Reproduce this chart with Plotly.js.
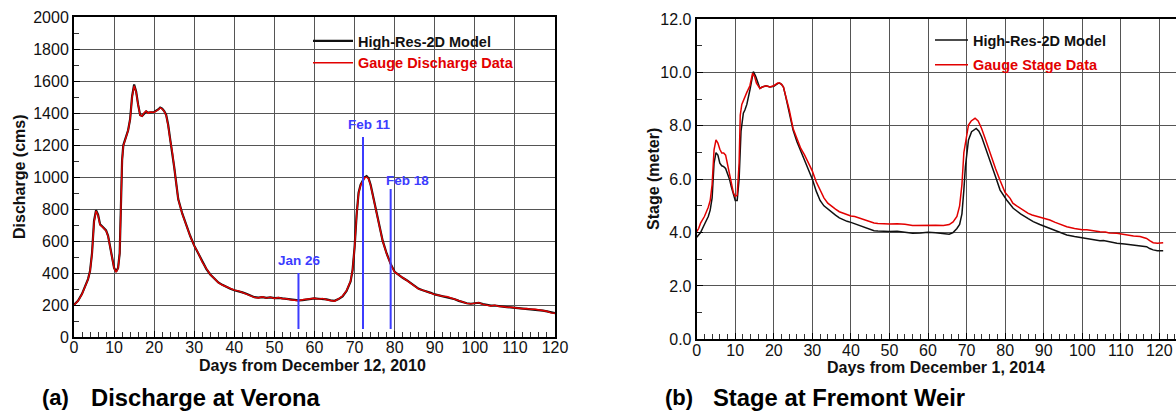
<!DOCTYPE html>
<html>
<head>
<meta charset="utf-8">
<script src="https://cdn.plot.ly/plotly-3.0.1.min.js"></script>
<style>
  html, body { margin: 0; padding: 0; background: #ffffff; overflow: hidden; }
  #chart { width: 1200px; height: 411px; }
</style>
</head>
<body>
<div id="chart"></div>
<script>
// ---- (a) Discharge at Verona: days from December 12, 2010 ----
const veronaDays = [0, 1, 2, 3, 3.5, 4, 4.5, 5, 5.5, 6, 6.5, 7, 7.5, 8, 8.5, 9, 9.5, 10, 10.5, 11,
  11.4, 11.7, 12, 12.3, 13, 13.5, 14, 14.5, 15, 15.5, 16, 16.5, 17, 17.5, 18, 18.5, 19, 20, 21, 21.5,
  22, 22.5, 23, 23.5, 24, 24.5, 25, 25.5, 26, 27, 28, 29, 30, 31, 32, 33, 34, 35, 36, 37,
  38, 39, 40, 41, 42, 43, 44, 45, 46, 47, 48, 49, 50, 51, 52, 53, 54, 55, 56, 57,
  58, 59, 60, 61, 62, 63, 64, 65, 66, 67, 68, 69, 69.5, 70, 70.5, 71, 71.5, 72, 72.5, 73,
  73.5, 74, 75, 76, 77, 78, 79, 80, 81, 82, 83, 84, 85, 86, 87, 88, 89, 90, 91, 92,
  93, 94, 95, 96, 97, 98, 99, 100, 101, 102, 103, 104, 105, 106, 107, 108, 109, 110, 111, 112,
  113, 114, 115, 116, 117, 118, 119, 120];

const veronaModel = [202, 226, 270, 332, 362, 412, 525, 725, 792, 765, 705, 692, 682, 666, 632, 572, 492, 432, 408, 432,
  525, 805, 1105, 1198, 1252, 1292, 1362, 1505, 1578, 1535, 1452, 1388, 1382, 1400, 1410, 1402, 1404, 1406, 1422, 1434,
  1428, 1412, 1388, 1325, 1235, 1162, 1062, 962, 862, 772, 700, 631, 571, 524, 470, 426, 391, 364, 341, 326,
  312, 301, 292, 287, 279, 270, 259, 249, 246, 249, 245, 247, 243, 245, 241, 238, 235, 231, 229, 231,
  235, 239, 241, 239, 239, 235, 229, 226, 237, 254, 288, 348, 418, 560, 762, 902, 952, 978, 998, 1005,
  992, 952, 832, 702, 602, 522, 457, 407, 386, 370, 355, 336, 318, 301, 292, 285, 276, 266, 260, 255,
  252, 245, 236, 226, 216, 211, 208, 211, 214, 206, 200, 196, 197, 192, 190, 187, 185, 183, 180, 178,
  177, 174, 172, 169, 165, 160, 153, 149];

const veronaGauge = [200, 225, 268, 330, 360, 410, 520, 718, 788, 760, 700, 690, 680, 664, 630, 570, 490, 430, 405, 430,
  520, 800, 1100, 1195, 1250, 1290, 1360, 1500, 1570, 1530, 1450, 1385, 1380, 1402, 1412, 1398, 1406, 1404, 1420, 1432,
  1425, 1410, 1385, 1320, 1230, 1160, 1060, 960, 860, 770, 698, 630, 570, 525, 468, 425, 390, 366, 340, 325,
  314, 299, 293, 288, 277, 271, 257, 248, 244, 251, 243, 249, 241, 247, 239, 239, 233, 230, 227, 233,
  236, 241, 242, 237, 241, 233, 228, 224, 238, 256, 290, 350, 420, 558, 758, 898, 948, 974, 995, 1000,
  988, 948, 828, 700, 600, 520, 455, 405, 385, 371, 354, 335, 319, 299, 293, 284, 275, 265, 261, 254,
  253, 244, 235, 225, 215, 210, 207, 213, 215, 204, 201, 194, 199, 191, 191, 186, 186, 182, 181, 177,
  178, 173, 173, 170, 164, 161, 151, 148];

// Event markers on the Verona hydrograph
const eventLabels = ['Jan 26', 'Feb 11', 'Feb 18'];
const eventDays = [56, 72.1, 79];
const eventTop = [400, 1250, 925];
const eventBottom = [50, 50, 50];

// ---- (b) Stage at Fremont Weir: days from December 1, 2014 ----
const fremontGaugeDays = [0, 0.5, 1, 2, 3, 3.5, 4, 4.5, 5, 5.5, 6, 6.5, 7, 7.5, 8, 8.5, 9, 9.5, 10, 10.5,
  11, 11.3, 11.7, 12.5, 13, 13.8, 14.5, 15, 15.5, 16.4, 17, 18, 19, 20, 21, 21.5, 22, 22.5, 23, 24,
  25, 26, 27, 28, 29, 30, 31, 32, 33, 34, 35, 36, 37, 38, 39, 40, 41, 42, 43, 44,
  45, 46, 47, 48, 50, 52, 54, 56, 58, 60, 62, 64, 65.5, 66.5, 67.5, 68.2, 68.8, 69.3, 69.8, 70.5,
  71.2, 72.2, 73, 73.9, 75, 76.1, 77.5, 78.7, 80, 81.3, 82, 83, 84, 85, 86, 87, 88, 89, 90, 91.6,
  93, 94, 96, 98, 100, 101.2, 103, 104.6, 106, 107, 109, 111, 113.3, 115, 116.7, 117.5, 118.4, 119.5, 121];

const fremontGauge = [4.03, 4.15, 4.35, 4.6, 4.95, 5.2, 5.8, 7.1, 7.47, 7.35, 7.12, 6.98, 6.98, 6.9, 6.55, 6.2, 5.85, 5.5, 5.35, 5.4,
  6.6, 8.4, 8.8, 9.1, 9.25, 9.5, 9.97, 9.85, 9.6, 9.4, 9.45, 9.5, 9.45, 9.5, 9.6, 9.6, 9.55, 9.45, 9.2, 8.6,
  7.9, 7.5, 7.15, 6.9, 6.6, 6.3, 5.9, 5.6, 5.3, 5.1, 4.98, 4.88, 4.78, 4.72, 4.68, 4.62, 4.6, 4.55, 4.52, 4.48,
  4.42, 4.36, 4.34, 4.33, 4.32, 4.33, 4.31, 4.26, 4.27, 4.28, 4.27, 4.26, 4.3, 4.4, 4.6, 5.0, 5.8, 7.0, 7.5, 8.03,
  8.18, 8.28, 8.18, 7.9, 7.45, 6.97, 6.4, 5.95, 5.5, 5.28, 5.1, 5.0, 4.9, 4.8, 4.72, 4.66, 4.62, 4.58, 4.52, 4.47,
  4.38, 4.32, 4.22, 4.15, 4.1, 4.1, 4.05, 4.03, 4.02, 3.98, 3.97, 3.92, 3.87, 3.85, 3.78, 3.7, 3.62, 3.6, 3.62];

const fremontModelDays = [0, 0.5, 1, 2, 3, 3.5, 4, 4.5, 5, 5.5, 6, 6.5, 7, 7.5, 8, 8.5, 9, 9.5, 10, 10.5,
  11, 11.5, 12.1, 12.5, 13, 13.8, 14.7, 15.3, 16.4, 17, 18, 19, 20, 21, 21.5, 22, 22.5, 23, 24, 25,
  26, 27, 28, 29, 30, 31, 32, 33, 34, 35, 36, 37, 38, 39, 40, 41, 42, 43, 44, 45,
  46, 47, 48, 50, 52, 54, 56, 58, 60, 62, 64, 65.5, 66.5, 67.5, 68.2, 68.8, 69.3, 69.7, 70.5, 71.3,
  72.5, 73.2, 73.9, 75, 76.1, 77.5, 78.7, 80.4, 82.1, 84, 86, 87.3, 89, 91.6, 94, 96, 98, 101.2, 103, 104.6,
  105.5, 107, 109, 111, 113.3, 115, 116.7, 117.5, 118.4, 119.5, 121];

const fremontModel = [3.82, 3.9, 4.0, 4.3, 4.6, 4.84, 5.3, 6.6, 6.99, 6.9, 6.6, 6.5, 6.47, 6.4, 6.22, 6.0, 5.7, 5.4, 5.2, 5.2,
  6.0, 7.8, 8.47, 8.59, 8.8, 9.34, 10.03, 9.85, 9.4, 9.45, 9.5, 9.45, 9.48, 9.58, 9.6, 9.55, 9.45, 9.15, 8.5, 7.84,
  7.4, 7.05, 6.75, 6.4, 6.0, 5.55, 5.2, 5.0, 4.88, 4.75, 4.65, 4.55, 4.47, 4.42, 4.38, 4.33, 4.3, 4.24, 4.18, 4.12,
  4.07, 4.06, 4.05, 4.04, 4.05, 4.02, 3.97, 3.98, 4.01, 3.99, 3.96, 3.94, 4.0, 4.15, 4.3, 4.7, 5.6, 6.47, 7.47, 7.78,
  7.9, 7.8, 7.59, 7.15, 6.72, 6.1, 5.59, 5.22, 4.91, 4.7, 4.52, 4.41, 4.3, 4.16, 4.02, 3.91, 3.85, 3.78, 3.74, 3.69,
  3.7, 3.65, 3.6, 3.57, 3.53, 3.5, 3.47, 3.4, 3.35, 3.32, 3.32];

const FONT = 'Arial, "Liberation Sans", Helvetica, sans-serif';
const RED = 'rgb(226,0,0)';
const BLUE = 'rgb(60,60,255)';
const GRID = '#555555';

const traces = [
  { x: veronaDays, y: veronaModel, xaxis: 'x', yaxis: 'y', mode: 'lines', name: 'High-Res-2D Model',
    line: { color: '#111111', width: 2.2 }, legend: 'legend', legendgroup: 'a1' },
  { x: veronaDays, y: veronaGauge, xaxis: 'x', yaxis: 'y', mode: 'lines',
    name: '<span style="color:' + RED + '">Gauge Discharge Data</span>',
    line: { color: RED, width: 1.4 }, legend: 'legend', legendgroup: 'a2' },
  { x: fremontModelDays, y: fremontModel, xaxis: 'x2', yaxis: 'y2', mode: 'lines', name: 'High-Res-2D Model',
    line: { color: '#111111', width: 1.5 }, legend: 'legend2', legendgroup: 'b1' },
  { x: fremontGaugeDays, y: fremontGauge, xaxis: 'x2', yaxis: 'y2', mode: 'lines',
    name: '<span style="color:' + RED + '">Gauge Stage Data</span>',
    line: { color: RED, width: 1.5 }, legend: 'legend2', legendgroup: 'b2' }
];

// vertical event lines, one trace each
eventDays.forEach(function (d, i) {
  traces.push({ x: [d, d], y: [eventBottom[i], eventTop[i]], xaxis: 'x', yaxis: 'y', mode: 'lines',
    line: { color: BLUE, width: 2 }, showlegend: false, hoverinfo: 'skip' });
});

const labelShift = [[1, 13], [6, 12], [17, 8]];
const annotations = eventLabels.map(function (t, i) {
  return { text: t, x: eventDays[i], y: eventTop[i], xref: 'x', yref: 'y', showarrow: false,
    xanchor: 'center', yanchor: 'middle', xshift: labelShift[i][0], yshift: labelShift[i][1],
    font: { family: FONT, size: 13.5, color: BLUE, weight: 'bold' } };
});

function title(text, x, y, angle, size) {
  return { text: text, x: x / 1200, y: 1 - y / 411, xref: 'paper', yref: 'paper', showarrow: false,
    xanchor: 'center', yanchor: 'middle', textangle: angle || 0,
    font: { family: FONT, size: size || 16, color: '#111111', weight: 'bold' } };
}
function caption(text, x, y, size) {
  return { text: text, x: x / 1200, y: 1 - y / 411, xref: 'paper', yref: 'paper', showarrow: false,
    xanchor: 'left', yanchor: 'middle', font: { family: FONT, size: size || 22, color: '#000000', weight: 'bold' } };
}
annotations.push(
  title('Discharge (cms)', 19, 177, -90),
  title('Days from December 12, 2010', 313, 365),
  title('Stage (meter)', 653, 179, -90),
  title('Days from December 1, 2014', 936, 367),
  caption('(a)', 40, 397),
  caption('Discharge at Verona', 89, 397, 23.8),
  caption('(b)', 663, 397),
  caption('Stage at Fremont Weir', 711, 397, 23.8)
);

function xAxis(domain, range) {
  return { domain: domain, range: range, dtick: 10, tick0: 0, ticks: 'inside', ticklen: 6, tickcolor: '#000',
    ticklabelstandoff: -5,
    showgrid: true, gridcolor: GRID, gridwidth: 1, zeroline: false,
    showline: true, linecolor: '#000', linewidth: 2, mirror: true,
    tickfont: { family: FONT, size: 16, color: '#111' },
    minor: { dtick: 2, tick0: 0, ticks: 'inside', ticklen: 5, tickcolor: '#333', showgrid: false },
    fixedrange: true };
}
function yAxis(domain, range, dtick, minorDtick, fmt, anchor) {
  return { domain: domain, range: range, dtick: dtick, tick0: 0, anchor: anchor, ticks: 'inside', ticklen: 6,
    tickcolor: '#000', tickformat: fmt,
    showgrid: true, gridcolor: GRID, gridwidth: 1, zeroline: false,
    showline: true, linecolor: '#000', linewidth: 2, mirror: true,
    tickfont: { family: FONT, size: 16, color: '#111' },
    minor: { dtick: minorDtick, tick0: 0, ticks: 'inside', ticklen: 5, tickcolor: '#333', showgrid: false },
    fixedrange: true };
}

const legendBase = { bgcolor: 'rgba(0,0,0,0)', borderwidth: 0, xref: 'paper', yref: 'paper',
  xanchor: 'left', yanchor: 'top', tracegroupgap: 0,
  font: { family: FONT, size: 14.5, color: '#111111', weight: 'bold' } };

const layout = {
  width: 1200, height: 411,
  margin: { l: 0, r: 0, t: 0, b: 0 },
  paper_bgcolor: '#ffffff', plot_bgcolor: '#ffffff',
  showlegend: true,
  xaxis: xAxis([74 / 1200, 555 / 1200], [0, 120]),
  yaxis: yAxis([74 / 411, 394 / 411], [0, 2000], 200, 100, 'd', 'x'),
  xaxis2: Object.assign(xAxis([696.7 / 1200, 1178.6 / 1200], [0, 125]), { anchor: 'y2' }),
  yaxis2: yAxis([71.7 / 411, 392 / 411], [0, 12], 2, 1, '.1f', 'x2'),
  legend: Object.assign({}, legendBase, { x: 308 / 1200, y: 1 - 25 / 411, itemwidth: 40 }),
  legend2: Object.assign({}, legendBase, { x: 930 / 1200, y: 1 - 24 / 411, itemwidth: 33, tracegroupgap: 3 }),
  annotations: annotations
};
layout.xaxis.anchor = 'y';

Plotly.newPlot('chart', traces, layout, { displayModeBar: false, staticPlot: true });
</script>
</body>
</html>
